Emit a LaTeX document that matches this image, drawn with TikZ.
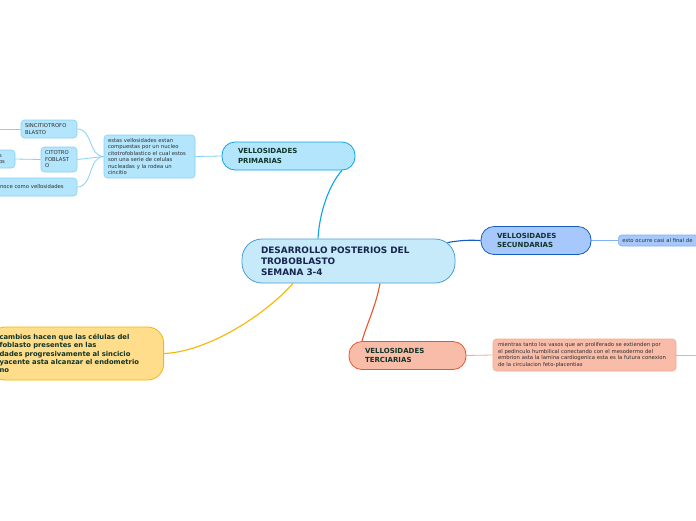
\documentclass[tikz,border=0pt]{standalone}
\usepackage{fontspec}
\setmainfont{DejaVu Sans}
\usepackage{xcolor}
\definecolor{maintext}{RGB}{24,36,78}
\definecolor{toptext}{RGB}{16,52,40}
\definecolor{smalltext}{RGB}{45,45,45}
\definecolor{mainfill}{RGB}{198,234,250}
\definecolor{mainedge}{RGB}{74,158,214}
\definecolor{primfill}{RGB}{179,229,252}
\definecolor{primedge}{RGB}{12,164,230}
\definecolor{primlite}{RGB}{132,210,244}
\definecolor{secfill}{RGB}{166,200,252}
\definecolor{secedge}{RGB}{22,94,190}
\definecolor{seclite}{RGB}{130,174,244}
\definecolor{terfill}{RGB}{249,188,168}
\definecolor{teredge}{RGB}{232,86,44}
\definecolor{terlite}{RGB}{245,170,146}
\definecolor{yelfill}{RGB}{255,221,138}
\definecolor{yeledge}{RGB}{247,182,0}
\usetikzlibrary{backgrounds}

\begin{document}
\begin{tikzpicture}[
    x=1pt, y=-1pt,
    central/.style={rectangle, rounded corners=20pt, draw=mainedge, fill=mainfill, line width=0.8pt,
        font=\fontsize{8.9}{11}\bfseries, text=maintext, align=left, text width=175pt,
        inner xsep=19pt, minimum height=44pt},
    topic/.style={rectangle, rounded corners=13pt, line width=0.8pt, font=\fontsize{7}{9.5}\bfseries,
        text=toptext, align=left, inner xsep=16pt, minimum height=28pt},
    leaf/.style={rectangle, rounded corners=3.5pt, line width=0.6pt, font=\fontsize{5.3}{6.5}\selectfont,
        text=smalltext, align=left, inner xsep=4pt, inner ysep=2pt},
    link/.style={line width=1.1pt},
    thin link/.style={line width=0.8pt},
]
\useasboundingbox (0,0) rectangle (696,520);

% centre
\node[central] (dev) at (348.5,261) {DESARROLLO POSTERIOS DEL\\TROBOBLASTO\\SEMANA 3-4};

% primarias branch
\node[topic, draw=primedge, fill=primfill, text width=101pt] (prim) at (288.5,156) {VELLOSIDADES\\PRIMARIAS};
\node[leaf, draw=primlite, fill=primfill, text width=83pt, minimum height=43pt] (comp) at (149.5,156.5)
    {estas vellosidades estan\\compuestas por un nucleo\\citotrofoblastico el cual estos\\son una serie de celulas\\nucleadas y la rodea un\\cincitio};
\node[leaf, draw=primlite, fill=primfill, text width=48pt, minimum height=18pt] (sinc) at (49,129) {SINCITIOTROFO\\BLASTO};
\node[leaf, draw=primlite, fill=primfill, text width=28pt, minimum height=25pt] (cito) at (59,159.5) {CITOTRO\\FOBLAST\\O};
\node[leaf, draw=primlite, fill=primfill, text width=12pt, minimum height=18pt, inner xsep=4pt] (citoleft) at (5,159) {s\\os};
\node[leaf, draw=primlite, fill=primfill, text width=72pt, minimum height=18pt, inner xsep=5pt] (vell) at (36,187) {noce como vellosidades};
\coordinate (sincleft) at (0,129);

% secundarias branch
\node[topic, draw=secedge, fill=secfill, text width=78pt] (sec) at (536,240.5) {VELLOSIDADES\\SECUNDARIAS};
\node[leaf, draw=seclite, fill=secfill, text width=92pt, minimum height=11pt, anchor=west] (final) at (618,240.5) {esto ocurre casi al final de};

% terciarias branch
\node[topic, draw=teredge, fill=terfill, text width=85pt] (ter) at (407.5,355.5) {VELLOSIDADES\\TERCIARIAS};
\node[leaf, draw=terlite, fill=terfill, text width=173pt, inner xsep=5pt, minimum height=32pt] (vasos) at (584.5,355)
    {mientras tanto los vasos que an proliferado se extienden por\\el pedinculo humbilical conectando con el mesodermo del\\embrion asta la lamina cardiogenica esta es la futura conexion\\de la circulacion feto-placentias};
\coordinate (vasosright) at (696,355);

% cambios
\node[rectangle, rounded corners=16pt, draw=yeledge, fill=yelfill, line width=0.8pt,
    font=\fontsize{6.8}{8.3}\bfseries, text=toptext, align=left, text width=154pt, inner xsep=10pt,
    minimum height=53pt, anchor=east] (camb) at (164,353.5)
    {cambios hacen que las células del\\foblasto presentes en las\\dades progresivamente al sincicio\\yacente asta alcanzar el endometrio\\no};

\begin{scope}[on background layer]
\fill[white] (0,0) rectangle (696,520);
\draw[link, primedge] ([xshift=-30.5pt]dev.north) .. controls (320,205) and (333,180) .. ([xshift=53.5pt]prim.south);
\draw[link, secedge] ([xshift=-8pt,yshift=-4pt]dev.north east) .. controls (462,240) and (470,240) .. (sec.west);
\draw[link, teredge] ([xshift=31.5pt]dev.south) .. controls (376,306) and (366,326) .. ([xshift=-45.5pt]ter.north);
\draw[link, yeledge] ([xshift=-55.5pt]dev.south) .. controls (262,318) and (205,352) .. (camb.east);

\draw[thin link, primlite] (prim.west) -- (comp.east);
\draw[thin link, primlite] (comp.west) .. controls (88,156) and (93,129) .. (sinc.east);
\draw[thin link, primlite] (comp.west) -- (cito.east);
\draw[thin link, primlite] (comp.west) .. controls (88,157) and (93,187) .. (vell.east);
\draw[thin link, primlite] (cito.west) -- (citoleft.east);
\draw[thin link, primlite] (sinc.west) -- (sincleft);

\draw[thin link, seclite] (sec.east) -- (final.west);
\draw[thin link, terlite] (ter.east) -- (vasos.west);
\draw[thin link, terlite] (vasos.east) -- (vasosright);
\end{scope}
\end{tikzpicture}
\end{document}
